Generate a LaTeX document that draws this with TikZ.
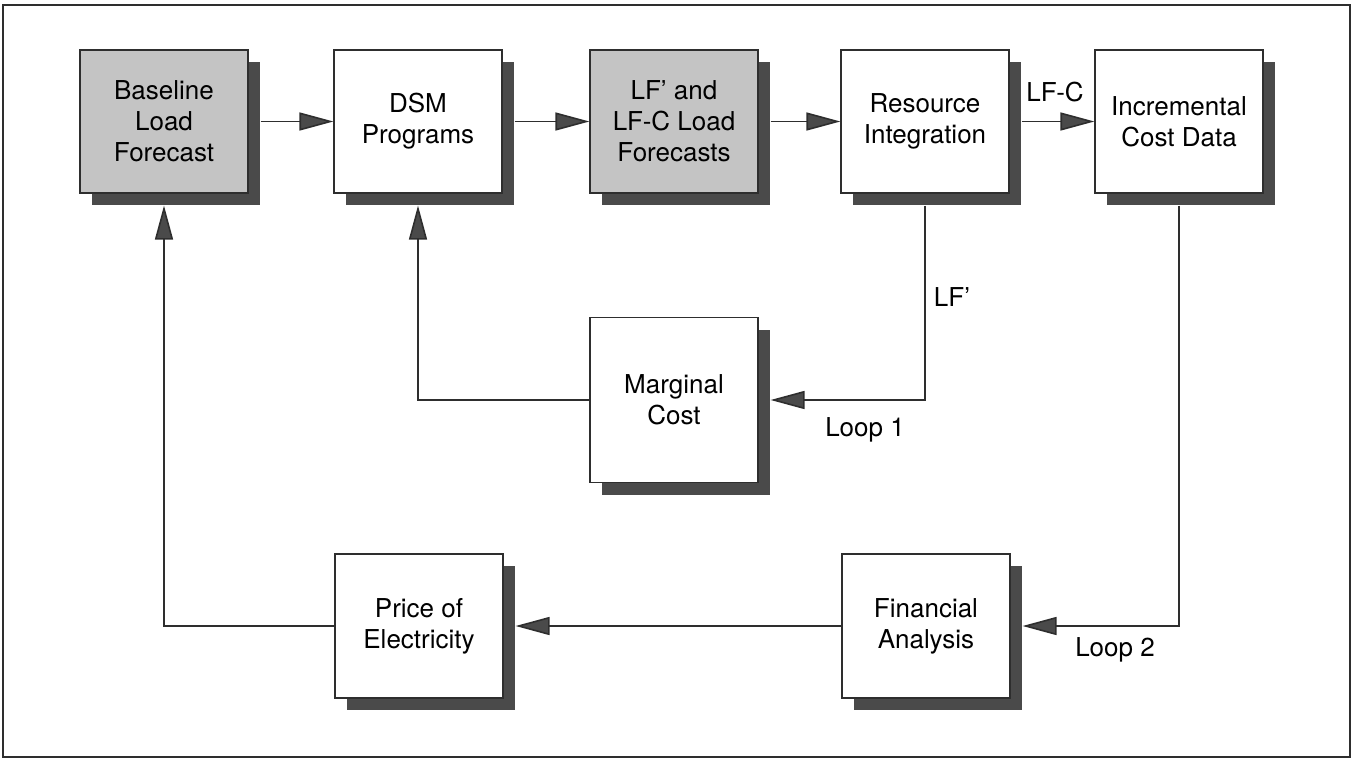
\documentclass[tikz,border=0pt]{standalone}
\usepackage{fontspec}
\setmainfont{TeX Gyre Heros}
\usepackage{tikz}
\usetikzlibrary{arrows.meta, shadows}
\definecolor{shadowgray}{HTML}{4A4A4A}
\definecolor{stipplegray}{HTML}{C4C4C4}
\definecolor{linegray}{HTML}{2E2E2E}

\begin{document}
\begin{tikzpicture}[x=1pt, y=-1pt,
    block/.style={rectangle, draw=linegray, line width=1.2pt, fill=#1, minimum width=168pt, minimum height=143pt, align=center, inner sep=2pt, font=\fontsize{26}{31}\selectfont, drop shadow={shadow xshift=12pt, shadow yshift=-12pt, fill=shadowgray, opacity=1}},
    block/.default=white,
    lbl/.style={font=\fontsize{26}{31}\selectfont, inner sep=1pt},
    arrow/.style={-{Triangle[length=34pt, width=18pt, fill=shadowgray]}, line width=1.6pt, draw=linegray}
]
\useasboundingbox (0,0) rectangle (1353,766);
\draw[linegray, line width=1.2pt] (3,5) rectangle (1350,757);

% top row
\node[block=stipplegray] (blf) at (164,121.5) {Baseline\\Load\\Forecast};
\node[block] (dsm) at (418,121.5) {DSM\\Programs};
\node[block=stipplegray] (lff) at (674,121.5) {LF' and\\LF-C Load\\Forecasts};
\node[block] (res) at (925,121.5) {Resource\\Integration};
\node[block] (inc) at (1179,121.5) {Incremental\\Cost Data};

% loops
\node[block, minimum height=165pt] (mc) at (674,400) {Marginal\\Cost};
\node[block, minimum height=144pt] (pe) at (419,626) {Price of\\Electricity};
\node[block, minimum height=144pt] (fa) at (926,626) {Financial\\Analysis};

\draw[arrow] ([xshift=12pt]blf.east) -- (dsm.west);
\draw[arrow] ([xshift=12pt]dsm.east) -- (lff.west);
\draw[arrow] ([xshift=12pt]lff.east) -- (res.west);
\draw[arrow] ([xshift=12pt]res.east) -- (inc.west);

\draw[arrow] ([yshift=-12pt]res.south) |- ([xshift=12pt]mc.east);
\draw[arrow] (mc.west) -| ([yshift=-12pt]dsm.south);
\draw[arrow] ([yshift=-12pt]inc.south) |- ([xshift=12pt]fa.east);
\draw[arrow] (fa.west) -- ([xshift=12pt]pe.east);
\draw[arrow] (pe.west) -| ([yshift=-12pt]blf.south);

\node[lbl] (lfc) at (1055,92) {LF-C};
\node[lbl] (lfp) at (952,297) {LF'};
\node[lbl] (loop1) at (865,430) {Loop 1};
\node[lbl] (loop2) at (1115,650) {Loop 2};
\end{tikzpicture}
\end{document}
